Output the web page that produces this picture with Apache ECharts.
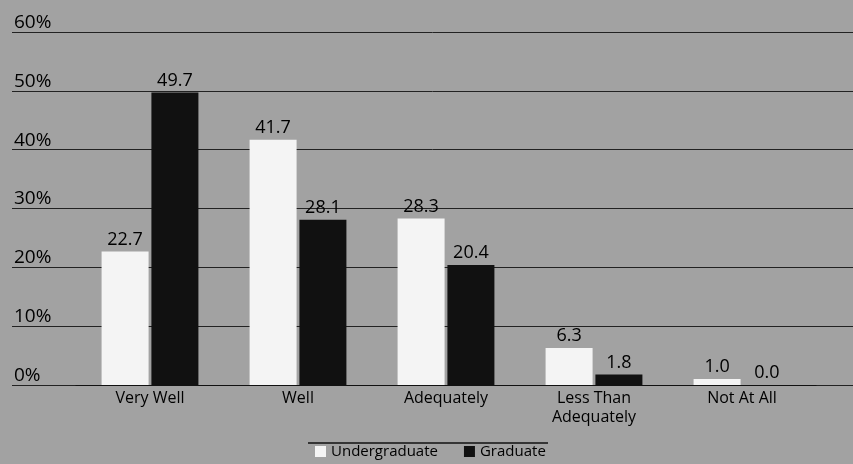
<!DOCTYPE html>
<html lang="en">
<head>
<meta charset="UTF-8">
<script src="https://cdn.jsdelivr.net/npm/echarts@6/dist/echarts.min.js"></script>
<style>
	html, body { margin: 0; padding: 0; background: #a2a2a2; }
	#chart { width: 853px; height: 464px; }
</style>
</head>
<body>
	<div id="chart"></div>
	<script type="text/javascript">
		var categories = ['Very Well', 'Well', 'Adequately', 'Less Than\nAdequately', 'Not At All'];
		var undergraduate = [22.7, 41.7, 28.3, 6.3, 1.0];
		var graduate = [49.7, 28.1, 20.4, 1.8, 0.0];
		var yTicks = [0, 10, 20, 30, 40, 50, 60];

		var font = '"Open Sans", "Noto Sans", sans-serif';
		var chart = echarts.init(document.getElementById('chart'));

		var labelStyle = {
			show: true,
			position: 'top',
			distance: 3,
			color: '#000',
			fontSize: 18,
			fontFamily: font,
			formatter: function (p) { return p.value.toFixed(1); }
		};

		var option = {
			backgroundColor: '#a2a2a2',
			textStyle: { fontFamily: font },
			grid: [
				// wide grid for the gridlines and the % labels
				{ left: 12, right: 0, top: 32, bottom: 79 },
				// bars
				{ left: 76, width: 740, top: 32, bottom: 79 }
			],
			legend: {
				bottom: 0,
				left: 310,
				itemWidth: 11,
				itemHeight: 11,
				itemGap: 26,
				icon: 'rect',
				textStyle: { color: '#000', fontSize: 15, fontFamily: font },
				data: ['Undergraduate', 'Graduate']
			},
			graphic: [{
				type: 'line',
				shape: { x1: 308, y1: 443, x2: 548, y2: 443 },
				style: { stroke: '#111', lineWidth: 1.5 }
			}],
			xAxis: [
				{ gridIndex: 0, type: 'value', show: false, min: 0, max: 1 },
				{
					gridIndex: 1,
					type: 'category',
					data: categories,
					axisLine: { show: true, lineStyle: { color: '#111', width: 1 } },
					axisTick: { show: false },
					axisLabel: { color: '#000', fontSize: 16, fontFamily: font, margin: 4, lineHeight: 19 }
				}
			],
			yAxis: [
				{
					gridIndex: 0,
					type: 'value',
					min: yTicks[0],
					max: yTicks[yTicks.length - 1],
					interval: 10,
					axisLine: { show: false },
					axisTick: { show: false },
					splitLine: { show: true, lineStyle: { color: '#222', width: 1 } },
					axisLabel: {
						inside: true,
						verticalAlign: 'bottom',
						align: 'left',
						margin: 2,
						color: '#000',
						fontSize: 19,
						fontFamily: font,
						formatter: '{value}%'
					}
				},
				{ gridIndex: 1, type: 'value', show: false, min: 0, max: 60 }
			],
			series: [
				{
					name: 'Undergraduate',
					type: 'bar',
					xAxisIndex: 1,
					yAxisIndex: 1,
					data: undergraduate,
					barWidth: 47,
					barGap: '6%',
					itemStyle: { color: '#f4f4f4' },
					label: labelStyle
				},
				{
					name: 'Graduate',
					type: 'bar',
					xAxisIndex: 1,
					yAxisIndex: 1,
					data: graduate,
					barWidth: 47,
					barGap: '6%',
					itemStyle: { color: '#111' },
					label: labelStyle
				}
			]
		};
		chart.setOption(option);
	</script>
</body>
</html>
